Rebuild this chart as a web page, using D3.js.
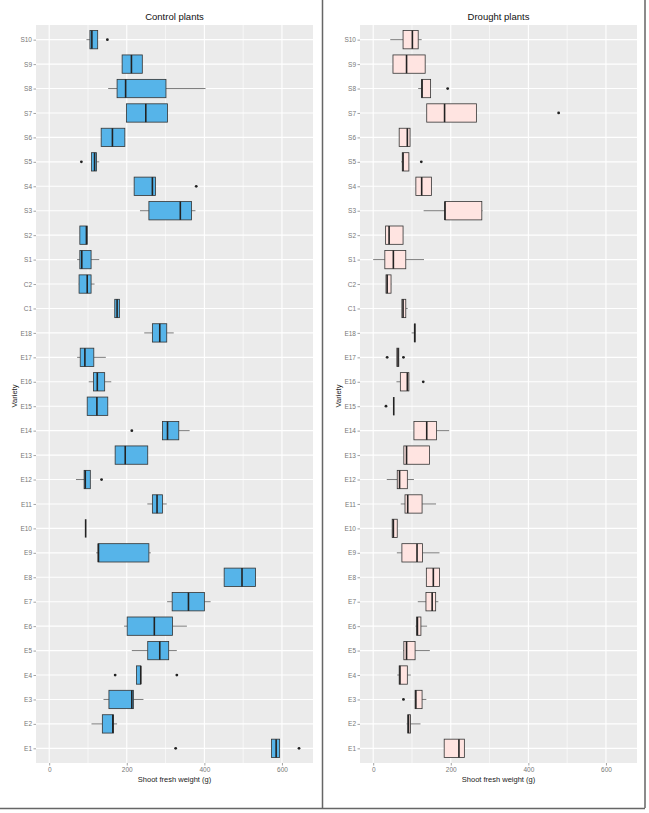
<html>
<head>
<script src="https://d3js.org/d3.v7.min.js"></script>
<style>
body { margin: 0; background: #fff; }
text { font-family: 'Liberation Sans', Arial, sans-serif; }
</style>
</head>
<body>
<svg></svg>
<script>

var width = 649;
var height = 813;

// varieties, bottom to top
var varieties = ["E1", "E2", "E3", "E4", "E5", "E6", "E7", "E8", "E9", "E10",
	"E11", "E12", "E13", "E14", "E15", "E16", "E17", "E18",
	"C1", "C2", "S1", "S2", "S3", "S4", "S5", "S6", "S7", "S8", "S9", "S10"];

// [lower whisker, q1, median, q3, upper whisker], same order as varieties
var controlStats = [
	[573, 573, 585, 594, 594], [109, 137, 164, 166, 175], [140, 154, 213, 217, 243],
	[225, 225, 236, 236, 236], [213, 254, 285, 308, 329], [193, 201, 271, 318, 355],
	[304, 317, 359, 400, 416], [451, 451, 497, 532, 532], [121, 126, 127, 257, 262],
	[94, 94, 94, 94, 94], [253, 266, 278, 292, 303], [69, 90, 93, 106, 106],
	[170, 170, 196, 254, 254], [292, 292, 305, 334, 362], [98, 98, 123, 151, 151],
	[102, 114, 124, 143, 160], [72, 80, 92, 115, 146], [245, 266, 285, 303, 321],
	[169, 169, 175, 181, 181], [76, 77, 98, 108, 117], [72, 79, 84, 108, 129],
	[79, 79, 96, 98, 98], [234, 257, 338, 367, 377], [219, 219, 266, 274, 274],
	[109, 109, 117, 122, 129], [134, 134, 163, 195, 195], [199, 199, 249, 305, 305],
	[152, 175, 197, 301, 403], [188, 188, 212, 240, 240], [96, 105, 110, 125, 125]
];
var controlOutliers = [["E1", 326], ["E1", 644], ["E4", 170], ["E4", 329], ["E12", 135],
	["E14", 213], ["S4", 379], ["S5", 83], ["S10", 150]];

var droughtStats = [
	[183, 183, 221, 235, 235], [86, 89, 91, 96, 122], [108, 108, 110, 126, 137],
	[62, 67, 69, 88, 97], [77, 79, 86, 108, 146], [109, 112, 114, 123, 139],
	[115, 136, 152, 161, 168], [137, 137, 155, 171, 171], [61, 74, 113, 127, 171],
	[49, 49, 52, 62, 62], [71, 82, 89, 126, 162], [35, 62, 68, 88, 105],
	[79, 79, 86, 145, 145], [105, 105, 138, 163, 196], [53, 53, 53, 53, 53],
	[60, 70, 88, 92, 92], [61, 61, 64, 66, 66], [99, 107, 107, 108, 108],
	[74, 74, 77, 84, 89], [33, 33, 36, 46, 47], [0, 30, 52, 84, 131],
	[32, 32, 41, 77, 77], [130, 185, 185, 280, 282], [110, 110, 125, 150, 150],
	[72, 75, 77, 92, 92], [67, 67, 88, 95, 95], [138, 138, 184, 266, 266],
	[116, 125, 126, 148, 148], [51, 51, 86, 134, 134], [44, 77, 101, 116, 125]
];
var droughtOutliers = [["E3", 78], ["E15", 33], ["E16", 129], ["E17", 36], ["E17", 78],
	["S5", 124], ["S7", 478], ["S8", 192]];

var xTicks = [0, 200, 400, 600];
var xMinorTicks = [100, 300, 500];
var xDomain = [-34, 680];

var svg = d3.select("svg").attr("width", width).attr("height", height);

var yScale = d3.scalePoint()
	.domain(varieties)
	.range([763, 25])
	.padding(0.6);
var step = yScale.step();
var boxH = step * 0.75;

function drawPanel(left, right, title, stats, outliers, fill) {
	var x = d3.scaleLinear().domain(xDomain).range([left, right]);
	var top = 25, bottom = 763;
	var g = svg.append("g");

	g.append("rect")
	.attr("x", left).attr("y", top)
	.attr("width", right - left).attr("height", bottom - top)
	.style("fill", "#ebebeb");

	// grid
	g.selectAll(".minor").data(xMinorTicks).enter().append("line")
	.attr("x1", function(d) { return x(d); }).attr("x2", function(d) { return x(d); })
	.attr("y1", top).attr("y2", bottom)
	.style("stroke", "#fff").style("stroke-width", 0.6);
	g.selectAll(".major").data(xTicks).enter().append("line")
	.attr("x1", function(d) { return x(d); }).attr("x2", function(d) { return x(d); })
	.attr("y1", top).attr("y2", bottom)
	.style("stroke", "#fff").style("stroke-width", 1.1);
	g.selectAll(".ygrid").data(varieties).enter().append("line")
	.attr("x1", left).attr("x2", right)
	.attr("y1", function(d) { return yScale(d); }).attr("y2", function(d) { return yScale(d); })
	.style("stroke", "#fff").style("stroke-width", 1.1);

	// axes
	var xAxis = g.append("g").attr("transform", "translate(0," + bottom + ")")
	.call(d3.axisBottom(x).tickValues(xTicks).tickSize(2.5).tickPadding(2));
	var yAxis = g.append("g").attr("transform", "translate(" + left + ",0)")
	.call(d3.axisLeft(yScale).tickSize(2.5).tickPadding(1.5));
	[xAxis, yAxis].forEach(function(a) {
		a.select(".domain").remove();
		a.selectAll("line").style("stroke", "#666").style("stroke-width", 0.6);
		a.selectAll("text").style("fill", "#777").style("font-size", "6.5px")
		.style("font-family", "'Liberation Sans', Arial, sans-serif");
	});

	var boxes = g.selectAll(".box").data(stats).enter().append("g")
	.attr("transform", function(d, i) { return "translate(0," + yScale(varieties[i]) + ")"; });

	// whiskers
	boxes.append("line")
	.attr("x1", function(d) { return x(d[0]); }).attr("x2", function(d) { return x(d[1]); })
	.style("stroke", "#444").style("stroke-width", 0.7);
	boxes.append("line")
	.attr("x1", function(d) { return x(d[3]); }).attr("x2", function(d) { return x(d[4]); })
	.style("stroke", "#444").style("stroke-width", 0.7);

	boxes.append("rect")
	.attr("x", function(d) { return x(d[1]); })
	.attr("y", -boxH / 2)
	.attr("width", function(d) { return x(d[3]) - x(d[1]); })
	.attr("height", boxH)
	.style("fill", fill)
	.style("stroke", "#333").style("stroke-width", 0.8);

	boxes.append("line")
	.attr("x1", function(d) { return x(d[2]); }).attr("x2", function(d) { return x(d[2]); })
	.attr("y1", -boxH / 2).attr("y2", boxH / 2)
	.style("stroke", "#222").style("stroke-width", 1.6);

	g.selectAll(".out").data(outliers).enter().append("circle")
	.attr("cx", function(d) { return x(d[1]); })
	.attr("cy", function(d) { return yScale(d[0]); })
	.attr("r", 1.4)
	.style("fill", "#222");

	g.append("text")
	.attr("x", (left + right) / 2).attr("y", 20)
	.attr("text-anchor", "middle")
	.style("font-size", "9.5px").style("fill", "#111")
	.text(title);

	g.append("text")
	.attr("x", (left + right) / 2).attr("y", 782)
	.attr("text-anchor", "middle")
	.style("font-size", "7.5px").style("fill", "#222")
	.text("Shoot fresh weight (g)");

	g.append("text")
	.attr("transform", "translate(" + (left - 19) + ",396) rotate(-90)")
	.attr("text-anchor", "middle")
	.style("font-size", "7.5px").style("fill", "#222")
	.text("Variety");
}

drawPanel(36, 313, "Control plants", controlStats, controlOutliers, "#56b4e9");
drawPanel(360, 637, "Drought plants", droughtStats, droughtOutliers, "#ffe4e1");

// frames round the two pictures
svg.append("path")
.attr("d", "M0,808.5H645M322.5,0V808M645,0V808")
.style("fill", "none")
.style("stroke", "#666").style("stroke-width", 1.5);

</script>
</body>
</html>
